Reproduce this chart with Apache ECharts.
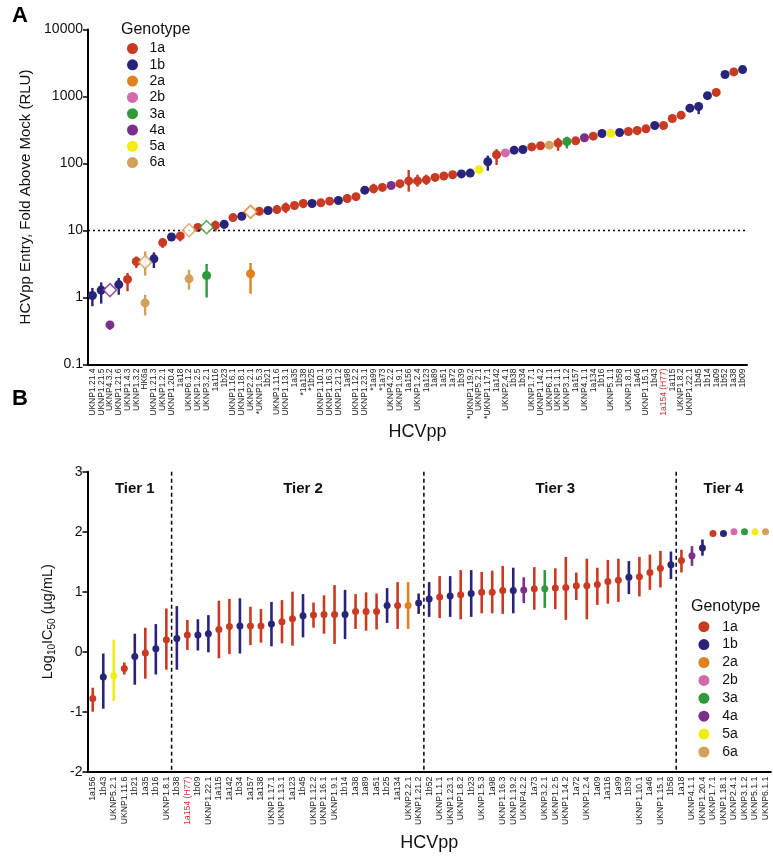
<!DOCTYPE html>
<html><head><meta charset="utf-8">
<script src="https://cdn.jsdelivr.net/npm/echarts/dist/echarts.min.js"></script>
<style>html,body{margin:0;padding:0;background:#fff}#c{width:773px;height:856px}</style>
</head><body><div id="c"></div>
<script>
// ---------- shared ----------
const GENOS = ['1a','1b','2a','2b','3a','4a','5a','6a'];
const COLORS = {'1a':'#c83b22','1b':'#27247a','2a':'#e0801e','2b':'#d469ac','3a':'#2f9a3c','4a':'#7a2f8a','5a':'#f3ec12','6a':'#d3a05c'};
const FONT = '"Liberation Sans", Arial, sans-serif';

// ---------- Panel A : entry ----------
const aLabels = ['UKNP1.21.4','UKNP1.21.5','UKNP4.3.2','UKNP1.21.6','UKNP1.4.3','UKNP1.3.2','HK6a','UKNP1.21.3','UKNP1.2.1','UKNP1.20.4','1a18','UKNP6.1.2','UKNP1.2.5','UKNP3.2.1','1a116','1b23','UKNP1.16.1','UKNP1.18.1',
'UKNP2.2.1','*UKNP1.5.3','1b21','UKNP1.11.6','UKNP1.13.1','1a35','*1a138','*1b25','UKNP1.10.1','UKNP1.16.3','UKNP1.21.2','1a98','UKNP1.12.2','UKNP1.23.1','*1a99','*1a73','UKNP4.2.2','UKNP1.9.1','1a156',
'UKNP1.2.4','1a123','1a89','1a51','1a72','1b39','*UKNP1.19.2','UKNP5.2.1','*UKNP1.17.1','1a142','UKNP2.4.1','1b38','1b34','UKNP1.7.1','UKNP1.14.2','UKNP6.1.1','UKNP1.1.1','UKNP3.1.2','1a157',
'UKNP4.1.1','1a134','1b16','UKNP5.1.1','1b58','UKNP1.8.1','1a46','UKNP1.15.1','1b43','1a154 (H77)','1a115','UKNP1.8.2','UKNP1.22.1','1b45','1b14','1a09','1b52','1a38','1b09'];
const aGeno = ['1b','1b','4a','1b','1a','1a','6a','1b','1a','1b','1a','6a','1a','3a','1a','1b','1a','1b',
'2a','1a','1b','1a','1a','1a','1a','1b','1a','1a','1b','1a','1a','1b','1a','1a','4a','1a','1a',
'1a','1a','1a','1a','1a','1b','1b','5a','1b','1a','2b','1b','1b','1a','1a','6a','1a','3a','1a',
'4a','1a','1b','5a','1b','1a','1a','1a','1b','1a','1a','1a','1b','1b','1b','1a','1b','1a','1b'];
const aEntry = [1.07,1.29,1.29,1.56,1.86,3.44,3.37,3.78,6.6,8.0,8.3,10.1,11.1,11.2,11.9,12.4,15.6,16.3,
19.0,19.4,19.9,20.5,22,23.6,25.3,25.3,25.9,27.4,28,30,32,40,42,44,47,50,55,
55,57,62,65,68,70,72,81,106,135,144,158,162,177,184,188,201,213,218,
242,256,280,283,290,300,311,329,369,369,470,527,670,710,1030,1150,2130,2330,2520];
// error bars: index, low, high
const aErrIdx  = [0,1,3,4,5,6,7,8,10,12,14,15,19,20,22,24,29,32,36,37,38,45,46,53,54,62,69];
const aErrLow  = [0.74,0.81,1.10,1.24,2.76,2.12,2.76,5.5,6.9,10.2,9.7,10.6,17.5,18,18.2,21.5,26,36,38,45,48,78,95,155,168,265,545];
const aErrHigh = [1.39,1.68,1.96,2.32,4.10,4.87,4.71,7.7,9.3,12.3,14.1,14.1,21.5,22,26.1,28.6,35,50,80,68,68,131,164,242,251,349,822];
// open diamonds (main marker) and the paired filled dot
const aDiamondIdx = [2,6,11,13,18];
const aSecondVal  = [0.39,0.83,1.9,2.13,2.26];
const aSecondLow  = [0.33,0.54,1.31,1.0,1.14];
const aSecondHigh = [0.44,1.10,2.6,3.16,3.27];
const aTickLabels = ['0.1','1','10','100','1000','10000'];

// ---------- Panel B : IC50 ----------
const bLabels = ['1a156','1b43','UKNP5.2.1','UKNP1.11.6','1b21','1a35','1b16','UKNP1.8.1',
'1b38','1a154 (H77)','1b09','UKNP1.22.1','1a115','1a142','1b34','1a157','1a138','UKNP1.17.1','UKNP1.13.1','1a123','1b45','UKNP1.12.2','UKNP1.16.1','UKNP1.9.1','1b14','1a38','1a89','1a51','1b25','1a134','UKNP2.2.1','UKNP1.21.2',
'1b52','UKNP1.1.1','UKNP1.23.1','UKNP1.8.2','1b23','UKNP1.5.3','1a98','UKNP1.16.3','UKNP1.19.2','UKNP4.2.2','1a73','UKNP3.2.1','UKNP1.2.5','UKNP1.14.2','1a72','UKNP1.2.4','1a09','1a116','1a99','1b39','UKNP1.10.1','1a46','UKNP1.15.1','1b58',
'1a18','UKNP4.1.1','UKNP1.20.4','UKNP1.7.1','UKNP1.18.1','UKNP2.4.1','UKNP3.1.2','UKNP5.1.1','UKNP6.1.1'];
const bGeno = ['1a','1b','5a','1a','1b','1a','1b','1a',
'1b','1a','1b','1b','1a','1a','1b','1a','1a','1b','1a','1a','1b','1a','1a','1a','1b','1a','1a','1a','1b','1a','2a','1b',
'1b','1a','1b','1a','1b','1a','1a','1a','1b','4a','1a','3a','1a','1a','1a','1a','1a','1a','1a','1b','1a','1a','1a','1b',
'1a','4a','1b','1a','1b','2b','3a','5a','6a'];
const bMean = [-0.78,-0.42,-0.40,-0.28,-0.08,-0.02,0.05,0.20,
0.22,0.28,0.28,0.30,0.37,0.42,0.43,0.43,0.43,0.46,0.50,0.55,0.60,0.61,0.62,0.62,0.62,0.67,0.67,0.67,0.77,0.77,0.77,0.81,
0.88,0.91,0.93,0.95,0.97,0.99,0.99,1.02,1.02,1.03,1.05,1.05,1.06,1.07,1.10,1.10,1.12,1.17,1.19,1.24,1.25,1.32,1.39,1.45,
1.52,1.60,1.73,1.97,1.97,2.0,2.0,2.0,2.0];
const bLow = [-1.0,-0.95,-0.82,-0.38,-0.55,-0.45,-0.38,-0.30,
-0.30,0.03,0.02,-0.01,-0.11,-0.04,-0.03,0.11,0.15,0.09,0.14,0.10,0.24,0.40,0.30,0.13,0.21,0.38,0.35,0.37,0.48,0.38,0.38,0.63,
0.58,0.56,0.58,0.54,0.58,0.64,0.64,0.63,0.64,0.81,0.70,0.73,0.71,0.53,0.86,0.54,0.78,0.80,0.83,0.96,0.92,1.03,1.07,1.21,
1.32,1.43,1.60,null,null,null,null,null,null];
const bHigh = [-0.60,-0.03,0.20,-0.18,0.30,0.40,0.46,0.72,
0.76,0.53,0.54,0.61,0.85,0.88,0.89,0.75,0.71,0.83,0.86,1.00,0.96,0.82,0.94,1.11,1.03,0.96,0.99,0.97,1.06,1.16,1.16,0.97,
1.16,1.26,1.26,1.36,1.36,1.33,1.35,1.43,1.40,1.24,1.41,1.36,1.39,1.58,1.32,1.55,1.40,1.53,1.55,1.51,1.58,1.62,1.68,1.67,
1.70,1.76,1.87,null,null,null,null,null,null];
const tierBounds = [7,31,55];          // dashed line after these categories
const tierNames = ['Tier 1','Tier 2','Tier 3','Tier 4'];

// ---------- build ----------
function errRenderer(width){
  return function(params, api){
    const x = api.value(0);
    const p1 = api.coord([x, api.value(1)]);
    const p2 = api.coord([x, api.value(2)]);
    return {type:'line', shape:{x1:p1[0],y1:p1[1],x2:p2[0],y2:p2[1]},
      style:{stroke:COLORS[GENOS[api.value(3)]], lineWidth:width, lineCap:'butt'}};
  };
}
const aErrRows = aErrIdx.map((i,k)=>[i,aErrLow[k],aErrHigh[k],GENOS.indexOf(aGeno[i])])
  .concat(aDiamondIdx.map((i,k)=>[i,aSecondLow[k],aSecondHigh[k],GENOS.indexOf(aGeno[i])]));
const bErrRows = [];
bMean.forEach((m,i)=>{ if(bLow[i]!==null) bErrRows.push([i,bLow[i],bHigh[i],GENOS.indexOf(bGeno[i])]); });

const series = [];
series.push({type:'custom', xAxisIndex:0, yAxisIndex:0, data:aErrRows, encode:{x:0,y:[1,2]}, renderItem:errRenderer(2.4), z:2, silent:true});
series.push({type:'custom', xAxisIndex:1, yAxisIndex:1, data:bErrRows, encode:{x:0,y:[1,2]}, renderItem:errRenderer(2.6), z:2, silent:true});
GENOS.forEach((g,gi)=>{
  const dA = [];
  aEntry.forEach((v,i)=>{ if(aGeno[i]===g && aDiamondIdx.indexOf(i)<0) dA.push([i,v]); });
  aDiamondIdx.forEach((i,k)=>{ if(aGeno[i]===g) dA.push([i,aSecondVal[k]]); });
  const s = {type:'scatter', name:g, xAxisIndex:0, yAxisIndex:0, data:dA, symbolSize:9,
    itemStyle:{color:COLORS[g], opacity:1}, z:4, silent:true};
  if(gi===0){
    s.markLine = {silent:true, symbol:'none', label:{show:false}, animation:false,
      lineStyle:{type:[2,3], color:'#000', width:1.3}, data:[{yAxis:10}]};
  }
  series.push(s);
  const dB = [];
  bMean.forEach((v,i)=>{ if(bGeno[i]===g) dB.push([i,v]); });
  series.push({type:'scatter', name:g, xAxisIndex:1, yAxisIndex:1, data:dB, symbolSize:7,
    itemStyle:{color:COLORS[g], opacity:1}, z:4, silent:true});
});
series.push({type:'scatter', xAxisIndex:0, yAxisIndex:0, symbol:'diamond', symbolSize:[13,13], z:5, silent:true,
  data: aDiamondIdx.map(i=>({value:[i,aEntry[i]], itemStyle:{color:'#fff', borderColor:COLORS[aGeno[i]], borderWidth:1.6}}))});
// tier dashed lines
series.push({type:'custom', xAxisIndex:1, yAxisIndex:1, silent:true, z:1,
  data: tierBounds.map(b=>[b,3]), encode:{x:0,y:1},
  renderItem:function(params, api){
    const b = api.value(0);
    const x = (api.coord([b,3])[0] + api.coord([b+1,3])[0]) / 2;
    const yTop = api.coord([b,3])[1], yBot = api.coord([b,-2])[1];
    return {type:'line', shape:{x1:x,y1:yTop,x2:x,y2:yBot}, style:{stroke:'#000', lineWidth:1.5, lineDash:[4,3]}};
  }});
// tier labels (centred over each tier's categories)
const tierCenters = [];
[ -1 ].concat(tierBounds).forEach((b,k)=>{
  const end = k<tierBounds.length ? tierBounds[k] : bLabels.length-1;
  tierCenters.push([(b+1+end)/2, 2.72]);
});
series.push({type:'custom', xAxisIndex:1, yAxisIndex:1, silent:true, z:6, data:tierCenters, encode:{x:0,y:1},
  renderItem:function(params, api){
    const p = api.coord([api.value(0), api.value(1)]);
    return {type:'text', x:p[0], y:p[1], style:{text:tierNames[params.dataIndex], fontFamily:FONT, fontWeight:'bold', fontSize:15, fill:'#111', align:'center', verticalAlign:'middle'}};
  }});

const labelColor = v => (String(v).indexOf('H77')>=0 ? '#d4343c' : '#222');
const axisLineStyle = {color:'#000', width:2};
const option = {
  animation:false,
  textStyle:{fontFamily:FONT},
  grid:[
    {left:88, top:29.5, width:659, height:335},
    {left:87.5, top:471.7, width:683.3, height:300}
  ],
  xAxis:[
    {type:'category', gridIndex:0, data:aLabels, boundaryGap:true,
     axisLine:{onZero:false, lineStyle:axisLineStyle}, axisTick:{alignWithLabel:true, length:5, lineStyle:{width:1.5, color:'#000'}},
     axisLabel:{rotate:90, interval:0, fontSize:8.5, margin:4, color:labelColor, fontFamily:FONT},
     name:'HCVpp', nameLocation:'middle', nameGap:58, nameTextStyle:{fontSize:18, color:'#111', fontFamily:FONT}},
    {type:'category', gridIndex:1, data:bLabels, boundaryGap:true,
     axisLine:{onZero:false, lineStyle:axisLineStyle}, axisTick:{alignWithLabel:true, length:5, lineStyle:{width:1.5, color:'#000'}},
     axisLabel:{rotate:90, interval:0, fontSize:8.7, margin:5, color:labelColor, fontFamily:FONT},
     name:'HCVpp', nameLocation:'middle', nameGap:62, nameTextStyle:{fontSize:18, color:'#111', fontFamily:FONT}}
  ],
  yAxis:[
    {type:'log', logBase:10, gridIndex:0, min:0.1, max:10000,
     axisLine:{show:true, lineStyle:axisLineStyle}, axisTick:{show:true, length:5, lineStyle:{width:1.5, color:'#000'}},
     axisLabel:{fontSize:14, color:'#111', margin:5, fontFamily:FONT,
       formatter:function(v){ const k = Math.round(Math.log10(v))+1; return aTickLabels[k] !== undefined ? aTickLabels[k] : String(v); }},
     splitLine:{show:false}, minorTick:{show:false},
     name:'HCVpp Entry, Fold Above Mock (RLU)', nameLocation:'middle', nameGap:35,
     nameTextStyle:{fontSize:15, color:'#111', fontFamily:FONT}},
    {type:'value', gridIndex:1, min:-2, max:3, interval:1,
     axisLine:{show:true, lineStyle:axisLineStyle}, axisTick:{show:true, length:5, lineStyle:{width:1.5, color:'#000'}},
     axisLabel:{fontSize:14, color:'#111', margin:5, fontFamily:FONT}, splitLine:{show:false},
     name:'{t|Log}{s|10}{t|IC}{s|50}{t| (µg/mL)}', nameLocation:'middle', nameGap:30,
     nameTextStyle:{color:'#111', rich:{
       t:{fontSize:14.5, lineHeight:20, verticalAlign:'middle', fontFamily:FONT, color:'#111'},
       s:{fontSize:10, lineHeight:10, verticalAlign:'bottom', fontFamily:FONT, color:'#111'}}}}
  ],
  legend:[
    {data:GENOS, orient:'vertical', left:127, top:41.5, itemWidth:24, itemHeight:11, itemGap:2.3, icon:'circle',
     selectedMode:false, padding:0, textStyle:{fontSize:14, color:'#111', fontFamily:FONT}},
    {data:GENOS, orient:'vertical', left:698.4, top:619.7, itemWidth:26.6, itemHeight:11, itemGap:3.9, icon:'circle',
     selectedMode:false, padding:0, textStyle:{fontSize:14, color:'#111', fontFamily:FONT}}
  ],
  graphic:[
    {type:'text', left:12, top:5, style:{text:'A', fontSize:22, fontWeight:'bold', fill:'#000', fontFamily:FONT}},
    {type:'text', left:12, top:388, style:{text:'B', fontSize:22, fontWeight:'bold', fill:'#000', fontFamily:FONT}},
    {type:'text', left:121, top:22, style:{text:'Genotype', fontSize:16, fill:'#111', fontFamily:FONT}},
    {type:'text', left:691, top:599, style:{text:'Genotype', fontSize:16, fill:'#111', fontFamily:FONT}}
  ],
  series:series
};
const chart = echarts.init(document.getElementById('c'));
chart.setOption(option);
</script></body></html>
